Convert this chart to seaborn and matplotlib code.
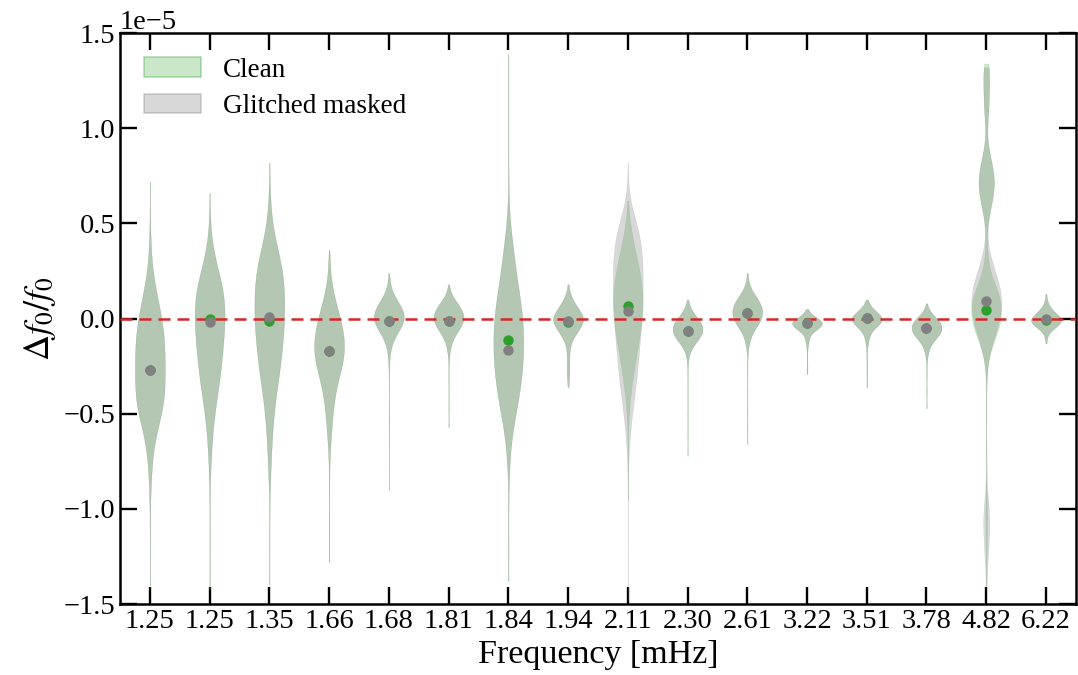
import numpy as np
import pandas as pd
import matplotlib
matplotlib.use("Agg")
import matplotlib.pyplot as plt
from matplotlib.colors import to_rgb
from matplotlib.patches import Patch
import seaborn as sns

# ---------------- data (values in units of 1e-5) ----------------
freq_labels = ["1.25", "1.25", "1.35", "1.66", "1.68", "1.81", "1.84", "1.94",
               "2.11", "2.30", "2.61", "3.22", "3.51", "3.78", "4.82", "6.22"]

# histogram-like description of each violin: sample levels and their counts
clean_levels = [
    [0.72, 0.55, 0.45, 0.40, 0.35, 0.30, 0.25, 0.20, 0.15, 0.10, 0.05, 0.00, -0.05, -0.10, -0.15, -0.20, -0.25, -0.30,
     -0.35, -0.40, -0.45, -0.50, -0.55, -0.60, -0.65, -0.70, -0.75, -0.80, -0.85, -0.90, -1.00, -1.10, -1.25, -1.40],
    [0.66, 0.55, 0.50, 0.45, 0.40, 0.35, 0.30, 0.25, 0.20, 0.15, 0.10, 0.05, 0.00, -0.05, -0.10, -0.15, -0.20, -0.25,
     -0.30, -0.35, -0.40, -0.45, -0.50, -0.55, -0.60, -0.65, -0.70, -0.75, -0.80, -0.90, -1.00, -1.15, -1.30, -1.42],
    [0.82, 0.70, 0.65, 0.60, 0.55, 0.50, 0.45, 0.40, 0.35, 0.30, 0.25, 0.20, 0.15, 0.10, 0.05, 0.00, -0.05, -0.10,
     -0.15, -0.20, -0.25, -0.30, -0.35, -0.40, -0.45, -0.50, -0.55, -0.60, -0.65, -0.70, -0.75, -0.80, -0.85, -0.95,
     -1.10, -1.25, -1.40],
    [0.36, 0.30, 0.25, 0.20, 0.15, 0.10, 0.05, 0.00, -0.05, -0.10, -0.15, -0.20, -0.25, -0.30, -0.35, -0.40, -0.45,
     -0.50, -0.55, -0.60, -0.65, -0.70, -0.80, -0.90, -1.05, -1.15, -1.28],
    [0.24, 0.20, 0.175, 0.15, 0.125, 0.10, 0.075, 0.05, 0.025, 0.00, -0.025, -0.05, -0.075, -0.10, -0.125, -0.15,
     -0.175, -0.20, -0.25, -0.30, -0.40, -0.50, -0.55, -0.65, -0.78, -0.90],
    [0.18, 0.15, 0.125, 0.10, 0.075, 0.05, 0.025, 0.00, -0.025, -0.05, -0.075, -0.10, -0.125, -0.15, -0.175, -0.20,
     -0.25, -0.32, -0.40, -0.48, -0.57],
    [1.39, 1.25, 1.10, 0.95, 0.80, 0.70, 0.60, 0.55, 0.50, 0.45, 0.40, 0.35, 0.30, 0.25, 0.20, 0.15, 0.10, 0.05, 0.00,
     -0.05, -0.10, -0.15, -0.20, -0.25, -0.30, -0.35, -0.40, -0.45, -0.50, -0.55, -0.60, -0.65, -0.70, -0.75, -0.80,
     -0.90, -1.00, -1.15, -1.25, -1.38],
    [0.18, 0.15, 0.125, 0.10, 0.075, 0.05, 0.025, 0.00, -0.025, -0.05, -0.075, -0.10, -0.125, -0.15, -0.175, -0.20,
     -0.225, -0.25, -0.275, -0.30, -0.325, -0.36],
    [0.62, 0.55, 0.50, 0.45, 0.40, 0.35, 0.30, 0.25, 0.20, 0.15, 0.10, 0.05, 0.00, -0.05, -0.10, -0.15, -0.20, -0.25,
     -0.30, -0.35, -0.40, -0.45, -0.50, -0.55, -0.65, -0.80, -0.95],
    [0.10, 0.075, 0.05, 0.025, 0.00, -0.025, -0.05, -0.075, -0.10, -0.125, -0.15, -0.175, -0.20, -0.25, -0.32, -0.40,
     -0.50, -0.60, -0.72],
    [0.24, 0.20, 0.175, 0.15, 0.125, 0.10, 0.075, 0.05, 0.025, 0.00, -0.025, -0.05, -0.075, -0.10, -0.125, -0.15,
     -0.20, -0.28, -0.38, -0.48, -0.57, -0.66],
    [0.05, 0.025, 0.00, -0.025, -0.05, -0.075, -0.10, -0.125, -0.15, -0.20, -0.25, -0.29],
    [0.10, 0.075, 0.05, 0.025, 0.00, -0.025, -0.05, -0.075, -0.10, -0.125, -0.15, -0.20, -0.25, -0.30, -0.36],
    [0.08, 0.05, 0.025, 0.00, -0.025, -0.05, -0.075, -0.10, -0.125, -0.15, -0.175, -0.20, -0.25, -0.30, -0.38, -0.47],
    [1.34, 1.30, 1.25, 1.20, 1.15, 1.10, 1.05, 1.00, 0.95, 0.90, 0.85, 0.80, 0.75, 0.70, 0.65, 0.60, 0.55, 0.50, 0.45,
     0.40, 0.35, 0.30, 0.25, 0.20, 0.15, 0.10, 0.05, 0.00, -0.05, -0.10, -0.15, -0.20, -0.25, -0.35, -0.50, -0.70,
     -0.95, -1.05, -1.15, -1.25, -1.40],
    [0.13, 0.10, 0.075, 0.05, 0.025, 0.00, -0.025, -0.05, -0.075, -0.10, -0.13],
]
clean_counts = [
    [1, 1, 1, 2, 2, 3, 5, 8, 11, 15, 19, 22, 25, 27, 28, 28, 28, 28, 28, 28, 26, 22, 17, 12, 8, 6, 4, 3, 2, 2, 1, 1, 1, 1],
    [1, 1, 1, 2, 4, 7, 11, 16, 21, 25, 28, 28, 28, 27, 26, 24, 23, 21, 19, 17, 14, 11, 9, 7, 5, 4, 3, 2, 2, 1, 1, 1, 1, 1],
    [1, 1, 1, 2, 3, 5, 8, 12, 17, 21, 25, 27, 28, 28, 28, 28, 27, 26, 24, 22, 20, 18, 15, 12, 10, 8, 7, 5, 4, 4, 3, 2,
     2, 1, 1, 1, 1],
    [1, 1, 2, 3, 6, 10, 15, 20, 24, 27, 28, 27, 23, 18, 13, 10, 8, 6, 5, 4, 2, 2, 1, 1, 1, 1, 1],
    [1, 1, 2, 3, 7, 12, 18, 23, 27, 28, 25, 19, 13, 8, 5, 3, 2, 1, 1, 1, 1, 1, 1, 1, 1, 1],
    [1, 2, 4, 10, 17, 22, 26, 28, 25, 19, 14, 8, 5, 3, 2, 1, 1, 1, 1, 1, 1],
    [1, 1, 1, 1, 1, 1, 1, 2, 3, 5, 7, 10, 12, 14, 16, 19, 22, 25, 27, 28, 28, 28, 28, 27, 25, 23, 20, 17, 14, 10, 7,
     5, 3, 2, 2, 1, 1, 1, 1, 1],
    [1, 2, 3, 7, 12, 17, 23, 28, 25, 18, 15, 8, 4, 3, 2, 2, 2, 2, 2, 2, 2, 1],
    [1, 2, 4, 7, 10, 14, 18, 22, 25, 27, 28, 28, 27, 24, 21, 18, 15, 12, 10, 7, 5, 3, 2, 1, 1, 1, 1],
    [1, 2, 4, 10, 18, 25, 28, 27, 21, 14, 7, 3, 2, 1, 1, 1, 1, 1, 1],
    [1, 2, 3, 6, 13, 19, 24, 27, 28, 25, 20, 14, 8, 5, 3, 2, 1, 1, 1, 1, 1, 1],
    [1, 4, 17, 28, 17, 6, 3, 2, 1, 1, 1, 1],
    [1, 3, 9, 19, 28, 21, 11, 5, 3, 2, 1, 1, 1, 1, 1],
    [1, 3, 9, 19, 26, 28, 25, 18, 10, 5, 3, 2, 1, 1, 1, 1],
    [5, 5, 5, 5, 5, 4, 3, 1, 1, 3, 7, 11, 15, 15, 13, 9, 5, 2, 1, 1, 2, 3, 6, 12, 20, 26, 28, 27, 23, 16, 9, 4, 2, 1,
     1, 1, 2, 3, 2, 1, 1],
    [1, 2, 4, 10, 18, 27, 25, 14, 5, 2, 1],
]

glitch_levels = [
    clean_levels[0], clean_levels[1], clean_levels[2], clean_levels[3], clean_levels[4], clean_levels[5],
    clean_levels[6], clean_levels[7],
    [0.82, 0.70, 0.65, 0.60, 0.55, 0.50, 0.45, 0.40, 0.35, 0.30, 0.25, 0.20, 0.15, 0.10, 0.05, 0.00, -0.05, -0.10,
     -0.15, -0.20, -0.25, -0.30, -0.35, -0.40, -0.45, -0.50, -0.55, -0.60, -0.65, -0.70, -0.80, -0.95, -1.10, -1.30,
     -1.48],
    clean_levels[9], clean_levels[10], clean_levels[11], clean_levels[12], clean_levels[13],
    [1.32, 1.30, 1.25, 1.20, 1.15, 1.10, 1.05, 1.00, 0.95, 0.90, 0.85, 0.80, 0.75, 0.70, 0.65, 0.60, 0.55, 0.50, 0.45,
     0.40, 0.35, 0.30, 0.25, 0.20, 0.15, 0.10, 0.05, 0.00, -0.05, -0.10, -0.15, -0.20, -0.25, -0.35, -0.50, -0.65,
     -0.75, -0.85, -0.95, -1.00, -1.05, -1.10, -1.15, -1.20, -1.25, -1.30, -1.35, -1.41],
    clean_levels[15],
]
glitch_counts = [
    clean_counts[0], clean_counts[1], clean_counts[2], clean_counts[3], clean_counts[4], clean_counts[5],
    clean_counts[6], clean_counts[7],
    [1, 1, 1, 4, 11, 17, 22, 26, 27, 28, 28, 28, 28, 28, 27, 26, 25, 23, 22, 20, 19, 17, 15, 13, 10, 8, 6, 4, 3, 2,
     1, 1, 1, 1, 1],
    clean_counts[9], clean_counts[10], clean_counts[11], clean_counts[12], clean_counts[13],
    [5, 5, 5, 5, 5, 4, 3, 1, 1, 3, 7, 11, 15, 15, 13, 9, 5, 2, 1, 2, 5, 10, 15, 22, 27, 28, 28, 25, 20, 14, 8, 4, 2,
     1, 1, 1, 1, 2, 4, 5, 6, 6, 5, 4, 3, 2, 1, 1],
    clean_counts[15],
]

clean_median = [-0.27, 0.00, -0.01, -0.17, -0.01, -0.01, -0.114, -0.02, 0.066, -0.065, 0.03, -0.025, 0.003,
                -0.05, 0.047, -0.005]
glitch_median = [-0.27, -0.02, 0.01, -0.17, -0.01, -0.01, -0.163, -0.01, 0.04, -0.065, 0.03, -0.025, 0.003,
                 -0.05, 0.09, 0.0]

# ---------------- styling ----------------
sns.set_style("ticks")
plt.rcParams["font.family"] = ["Liberation Serif", "DejaVu Serif"]
plt.rcParams["mathtext.fontset"] = "stix"
plt.rcParams["text.color"] = "black"
plt.rcParams["axes.labelcolor"] = "black"
plt.rcParams["xtick.color"] = "black"
plt.rcParams["ytick.color"] = "black"
plt.rcParams["axes.edgecolor"] = "black"

GREEN = "#2ca02c"
GRAY = "#808080"
RED = "#d62728"

keys = [f"k{i}" for i in range(len(freq_labels))]


def long_frame(levels, counts, name):
    parts = []
    for key, lv, ct in zip(keys, levels, counts):
        vals = np.repeat(np.asarray(lv, float), np.asarray(ct, int)) * 1e-5
        parts.append(pd.DataFrame({"key": key, "value": vals, "series": name}))
    return pd.concat(parts, ignore_index=True)


df_clean = long_frame(clean_levels, clean_counts, "Clean")
df_glitch = long_frame(glitch_levels, glitch_counts, "Glitched masked")

fig = plt.figure(figsize=(10.78, 6.75), dpi=100)
ax = fig.add_axes([0.1113, 0.105, 0.8867, 0.846])

special = "k14"
for df, col, alpha in [(df_clean, GREEN, 0.25), (df_glitch, GRAY, 0.30)]:
    for subset, bw in [(df[df["key"] != special], 0.9), (df[df["key"] == special], 0.35)]:
        sns.violinplot(data=subset, x="key", y="value", order=keys, color=col, linecolor=col,
                       linewidth=0.25, saturation=1, alpha=alpha, density_norm="width", width=0.5,
                       cut=0, inner=None, bw_adjust=bw, gridsize=300, ax=ax)

ax.axhline(0, color=RED, ls=(0, (4.8, 2.8)), lw=1.8, zorder=3)

med = pd.DataFrame({"key": keys,
                    "clean": np.asarray(clean_median) * 1e-5,
                    "glitch": np.asarray(glitch_median) * 1e-5})
sns.stripplot(data=med, x="key", y="clean", order=keys, color=GREEN, jitter=False, size=7.5,
              linewidth=0, zorder=4, ax=ax)
sns.stripplot(data=med, x="key", y="glitch", order=keys, color=GRAY, jitter=False, size=7.5,
              linewidth=0, zorder=5, ax=ax)

ax.set_xlim(-0.5, len(keys) - 0.5)
ax.set_ylim(-1.5e-5, 1.5e-5)
ax.set_yticks(np.arange(-1.5, 1.51, 0.5) * 1e-5)
ax.set_xticks(range(len(keys)))
ax.set_xticklabels(freq_labels)
ax.tick_params(axis="both", which="major", direction="in", top=True, right=True,
               length=12, width=1.7, labelsize=20.5, colors="black")
ax.yaxis.get_offset_text().set_fontsize(20.5)
ax.yaxis.get_offset_text().set_color("black")
for s in ax.spines.values():
    s.set_linewidth(1.8)
    s.set_color("black")

ax.set_xlabel("Frequency [mHz]", fontsize=24.5, color="black")
ax.set_ylabel(r"$\Delta f_0/f_0$", fontsize=26, color="black")

handles = [
    Patch(facecolor=(*to_rgb(GREEN), 0.25), edgecolor=(*to_rgb(GREEN), 0.35), lw=1.2, label="Clean"),
    Patch(facecolor=(*to_rgb(GRAY), 0.30), edgecolor=(*to_rgb(GRAY), 0.35), lw=1.2, label="Glitched masked"),
]
leg = ax.legend(handles=handles, loc="upper left", frameon=False, fontsize=19.5, handlelength=2.1,
                handleheight=0.74, handletextpad=0.8, labelspacing=0.4, borderaxespad=0.5)
for t in leg.get_texts():
    t.set_color("black")

fig.savefig("out.png", dpi=100)
